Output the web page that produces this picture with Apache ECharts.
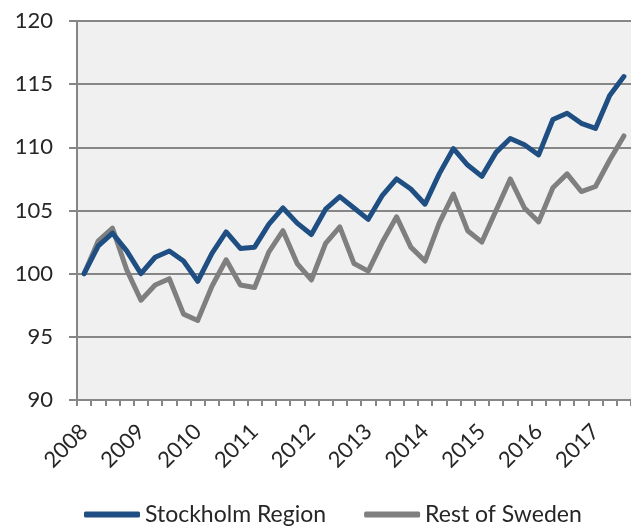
<!DOCTYPE html>
<html>
<head>
<meta charset="utf-8">
<script src="https://cdn.jsdelivr.net/npm/echarts@6/dist/echarts.min.js"></script>
<style>
html,body{margin:0;padding:0;background:#fff;}
#chart{width:631px;height:530px;}
</style>
</head>
<body>
<div id="chart"></div>
<script>
// Data (quarterly index, 2008 Q1 = 100)
const years = ['2008','2009','2010','2011','2012','2013','2014','2015','2016','2017'];
const quarters = ['Q1','Q2','Q3','Q4'];
const stockholm = [
  100.0, 102.2, 103.2, 101.8,
  100.0, 101.3, 101.8, 101.0,
  99.4, 101.6, 103.3, 102.0,
  102.1, 103.9, 105.2, 104.0,
  103.1, 105.1, 106.1, 105.2,
  104.3, 106.2, 107.5, 106.7,
  105.5, 107.9, 109.9, 108.6,
  107.7, 109.6, 110.7, 110.2,
  109.4, 112.2, 112.7, 111.9,
  111.5, 114.1, 115.6
];
const restOfSweden = [
  100.0, 102.6, 103.6, 100.3,
  97.9, 99.1, 99.6, 96.8,
  96.3, 99.0, 101.1, 99.1,
  98.9, 101.7, 103.4, 100.8,
  99.5, 102.4, 103.7, 100.8,
  100.2, 102.5, 104.5, 102.1,
  101.0, 104.0, 106.3, 103.4,
  102.5, 105.0, 107.5, 105.2,
  104.1, 106.8, 107.9, 106.5,
  106.9, 109.0, 110.9
];
const seriesNames = ['Stockholm Region', 'Rest of Sweden'];

const categories = [];
years.forEach(y => quarters.forEach(q => categories.push(y + ' ' + q)));
categories.length = stockholm.length;

const chart = echarts.init(document.getElementById('chart'), null, {renderer: 'canvas'});
const textColor = '#262626';
const axisGray = '#868686';
const font = 'Lato, "Noto Sans", sans-serif';

chart.setOption({
  animation: false,
  backgroundColor: '#ffffff',
  grid: {
    left: 77, top: 21, right: 0, bottom: 130,
    show: true, backgroundColor: '#f0f0f0', borderWidth: 0,
    containLabel: false
  },
  legend: {
    bottom: -1,
    left: 79,
    icon: 'roundRect',
    itemWidth: 56,
    itemHeight: 6,
    itemGap: 38,
    textStyle: {fontFamily: font, fontSize: 23, color: textColor},
    data: seriesNames
  },
  xAxis: {
    type: 'category',
    data: categories,
    boundaryGap: true,
    axisLine: {show: true, lineStyle: {color: axisGray, width: 2}},
    axisTick: {show: true, interval: 0, length: 6, lineStyle: {color: axisGray, width: 2}},
    axisLabel: {
      interval: 3, rotate: 45, margin: 28,
      fontFamily: font, fontSize: 22, color: textColor,
      formatter: v => v.split(' ')[0]
    },
    splitLine: {show: false}
  },
  yAxis: {
    type: 'value',
    min: 90, max: 120, interval: 5,
    axisLine: {show: true, lineStyle: {color: axisGray, width: 2}},
    axisTick: {show: true, length: 8, lineStyle: {color: axisGray, width: 2}},
    axisLabel: {margin: 24, fontFamily: font, fontSize: 22, color: textColor},
    splitLine: {show: true, lineStyle: {color: axisGray, width: 2}}
  },
  series: [
    {
      name: seriesNames[0], type: 'line', data: stockholm,
      symbol: 'none', z: 3,
      lineStyle: {color: '#1f4e82', width: 5, cap: 'round', join: 'round'},
      itemStyle: {color: '#1f4e82'}
    },
    {
      name: seriesNames[1], type: 'line', data: restOfSweden,
      symbol: 'none', z: 2,
      lineStyle: {color: '#7f7f7f', width: 5, cap: 'round', join: 'round'},
      itemStyle: {color: '#7f7f7f'}
    }
  ]
});
</script>
</body>
</html>
